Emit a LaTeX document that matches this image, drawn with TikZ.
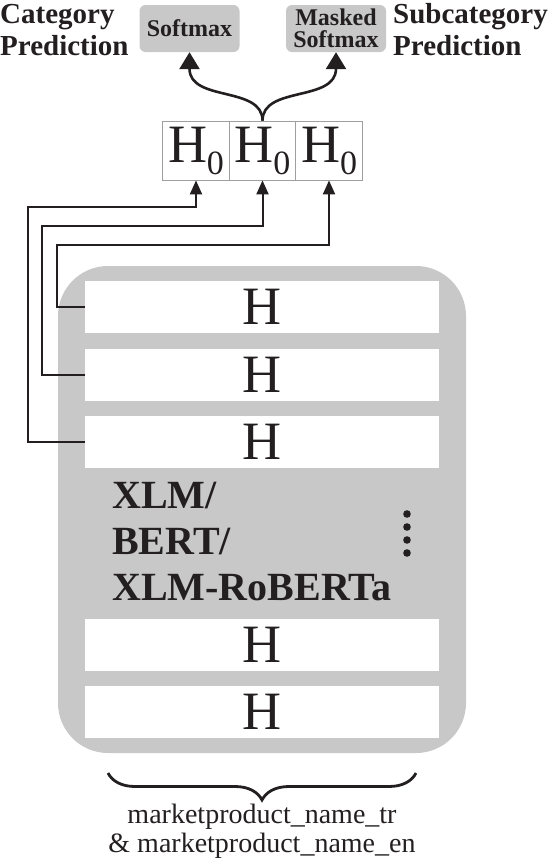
\documentclass[tikz,border=0pt]{standalone}
\usepackage{fontspec}
\setmainfont{Liberation Serif}
\usepackage{xcolor}
\usepackage{tikz}
\usetikzlibrary{arrows.meta, decorations.pathreplacing}
\definecolor{inkdark}{RGB}{35,31,32}
\definecolor{encgray}{RGB}{199,200,199}

\begin{document}
\begin{tikzpicture}[x=1pt, y=-1pt,
  encbox/.style  = {fill=encgray, rounded corners=50pt, minimum width=408pt,
                    minimum height=487pt, inner sep=0pt},
  layer/.style   = {fill=white, minimum width=354pt, minimum height=52pt,
                    inner sep=0pt, text=inkdark,
                    font=\fontsize{54}{54}\selectfont},
  hzero/.style   = {draw=gray!75, line width=0.8pt, fill=white,
                    minimum width=66.5pt, minimum height=59pt, inner sep=0pt,
                    text=inkdark, font=\fontsize{54}{54}\selectfont},
  headbox/.style = {fill=encgray, rounded corners=6pt, minimum width=100pt,
                    minimum height=47pt, inner sep=1pt, align=center,
                    text=inkdark, font=\bfseries\fontsize{24}{22}\selectfont},
  predlbl/.style = {anchor=west, align=left, inner sep=0pt, text=inkdark,
                    font=\bfseries\fontsize{29}{32}\selectfont},
  wire/.style    = {-{Triangle[length=14pt,width=12pt]}, line width=2pt,
                    draw=inkdark},
  outarr/.style  = {-{Triangle[length=17pt,width=20pt]}, line width=2.6pt,
                    draw=inkdark},
]
\useasboundingbox (0,0) rectangle (557,860);

%% ── Encoder stack ─────────────────────────────────────────────────
\node[encbox] (enc) at (262,509.5) {};
\node[layer] (lay1) at (262,307)   {H};
\node[layer] (lay2) at (262,374.5) {H};
\node[layer] (lay3) at (262,442)   {H};
\node[layer] (lay4) at (262,645)   {H};
\node[layer] (lay5) at (262,712)   {H};

\node[anchor=west, align=left, inner sep=0pt, text=inkdark,
      font=\bfseries\fontsize{40}{46}\selectfont]
  (model) at (112,542) {XLM/\\BERT/\\XLM-RoBERTa};

%% ── Vertical dots ─────────────────────────────────────────────────
\fill[inkdark] (407,514) circle (3.8pt);
\fill[inkdark] (407,527) circle (3.8pt);
\fill[inkdark] (407,540) circle (3.8pt);
\fill[inkdark] (407,553) circle (3.8pt);

%% ── Concatenated first tokens ─────────────────────────────────────
\node[hzero] (hzero1) at (196,150.5)   {H\raisebox{-12pt}{\fontsize{34}{34}\selectfont 0}};
\node[hzero] (hzero2) at (262.5,150.5) {H\raisebox{-12pt}{\fontsize{34}{34}\selectfont 0}};
\node[hzero] (hzero3) at (329,150.5)   {H\raisebox{-12pt}{\fontsize{34}{34}\selectfont 0}};

%% ── Wires from the last three layers ──────────────────────────────
\coordinate (wa) at (28,207);
\coordinate (wb) at (42,226);
\coordinate (wc) at (57,245);
\draw[wire] (lay3.west) -| (wa) -| (hzero1.south);
\draw[wire] (lay2.west) -| (wb) -| (hzero2.south);
\draw[wire] (lay1.west) -| (wc) -| (hzero3.south);

%% ── Output heads ──────────────────────────────────────────────────
\node[headbox] (soft)  at (189.5,28.5) {Softmax};
\node[headbox] (msoft) at (336,28.5)   {Masked\\Softmax};
\draw[outarr] (hzero2.north) .. controls +(0,-35) and +(0,50) .. (soft.south);
\draw[outarr] (hzero2.north) .. controls +(0,-35) and +(0,50) .. (msoft.south);

\node[predlbl] (catlbl) at (0,30)   {Category\\Prediction};
\node[predlbl] (sublbl) at (393,30) {Subcategory\\Prediction};

%% ── Input brace ───────────────────────────────────────────────────
\draw[inkdark, line width=2.8pt, decorate, decoration={brace, amplitude=27pt}]
  (416,773) -- (108,773);
\node[align=center, text=inkdark, font=\fontsize{28}{29}\selectfont]
  (inputs) at (262,831) {marketproduct\_name\_tr\\ \& marketproduct\_name\_en};

\end{tikzpicture}
\end{document}
